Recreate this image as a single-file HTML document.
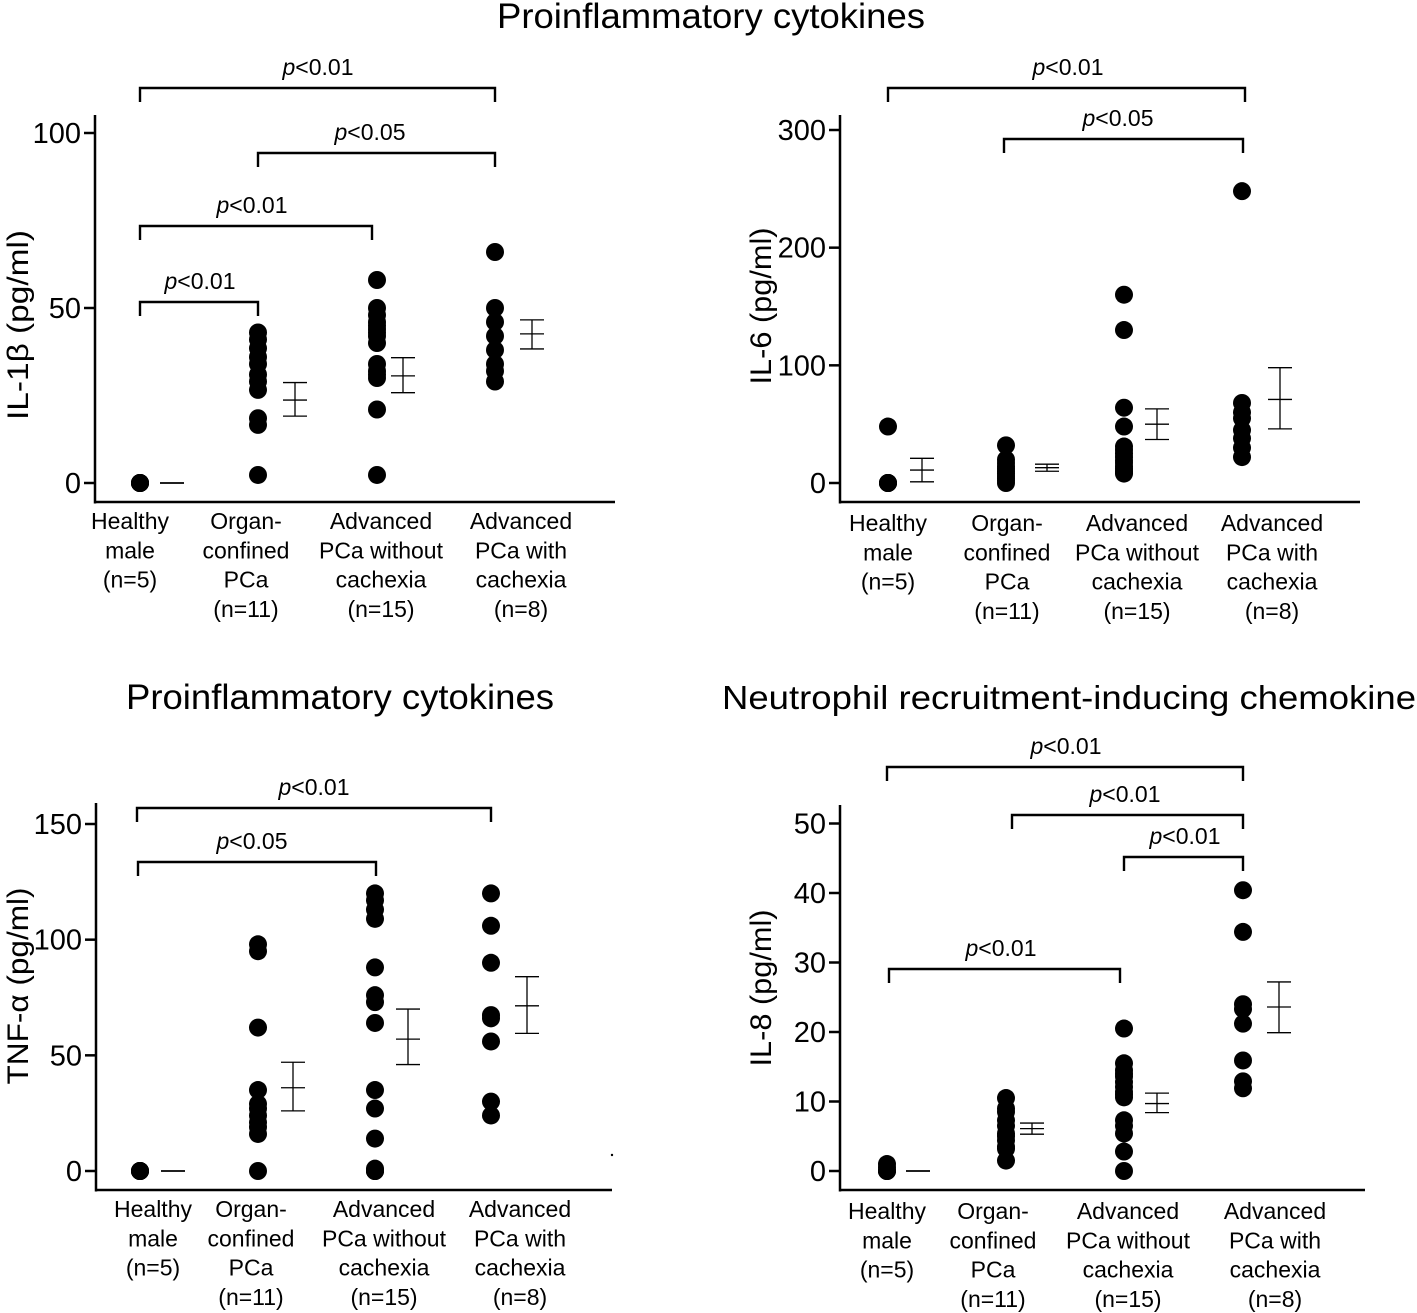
<!DOCTYPE html>
<html><head><meta charset="utf-8"><style>
html,body{margin:0;padding:0;background:#fff}
svg{display:block;font-family:"Liberation Sans",Arial,sans-serif}
</style></head><body>
<svg id="fig" width="1417" height="1313" viewBox="0 0 1417 1313">
<text x="711" y="28" font-size="35" text-anchor="middle" textLength="428" lengthAdjust="spacingAndGlyphs">Proinflammatory cytokines</text>
<text x="340" y="709" font-size="35" text-anchor="middle" textLength="428" lengthAdjust="spacingAndGlyphs">Proinflammatory cytokines</text>
<text x="1069" y="709" font-size="33" text-anchor="middle" textLength="694" lengthAdjust="spacingAndGlyphs">Neutrophil recruitment-inducing chemokine</text>
<circle cx="612" cy="1155" r="1.2" fill="#000"/>
</svg>
<script>
// ---- data ----
const groupLines = [["Healthy","male","(n=5)"],["Organ-","confined","PCa","(n=11)"],["Advanced","PCa without","cachexia","(n=15)"],["Advanced","PCa with","cachexia","(n=8)"]];
const il1bTicks = [0,50,100];
const il1bDots = [[0,0,0,0,0],[43,41,38.5,36,34,31,29,26.6,18.5,16.6,2.3],[58,50,48,46,45,44,43,42,40,34,32,31,30,21,2.3],[66,50,46,42,38,34,32,29]];
const il1bMean = [0,23.7,30.6,42.6];
const il1bHi = [0,28.7,35.8,46.6];
const il1bLo = [0,19.1,25.8,38.3];
const il6Ticks = [0,100,200,300];
const il6Dots = [[48,0,0,0,0],[32,20,17,14,12,10,8,6,4,2,0],[160,130,64,48,31,28,25,22,19,17,14,12,10,9,8],[248,68,60,55,45,38,30,22]];
const il6Mean = [11,13,50,71];
const il6Hi = [21,16,63,98];
const il6Lo = [1,10,37,46];
const tnfTicks = [0,50,100,150];
const tnfDots = [[0,0,0,0,0],[98,95,62,35,29,27,24,21,19,16,0],[120,117,113,109,88,76,73,64,35,27,14,1,0,0,0],[120,106,90,67.4,66,56,30,24]];
const tnfMean = [0,36,57,71.4];
const tnfHi = [0,47,70,84];
const tnfLo = [0,26,46,59.5];
const il8Ticks = [0,10,20,30,40,50];
const il8Dots = [[1,0.5,0,0,0],[10.5,9,8.5,7.3,6.5,5.4,5,4.4,3.5,3.2,1.5],[20.5,15.5,14.5,14,13.6,12.8,12.1,11.4,11,10.6,7.3,6.5,5.4,2.8,0],[40.4,34.4,24,23.3,21.2,15.9,12.9,11.9]];
const il8Mean = [0,6.1,9.7,23.6];
const il8Hi = [0,6.9,11.2,27.2];
const il8Lo = [0,5.3,8.4,19.9];

// ---- drawing ----
const svg = document.getElementById('fig');
const NS = 'http://www.w3.org/2000/svg';
function mk(tag, attrs, parent){
  const e = document.createElementNS(NS, tag);
  for (const k in attrs) e.setAttribute(k, attrs[k]);
  (parent||svg).appendChild(e); return e;
}
function panel(cfg){
  const g = mk('g', {});
  
  
  const y = v => cfg.y0 - (v - 0) * (cfg.y0 - cfg.yTop) / cfg.vTop;
  const ya = mk('line', {x1:cfg.ax, y1:cfg.axTop, x2:cfg.ax, y2:cfg.axY+1.5, stroke:'#000','stroke-width':2.5}, g);
  
  
  const xa = mk('line', {x1:cfg.ax-1, y1:cfg.axY, x2:cfg.axR, y2:cfg.axY, stroke:'#000','stroke-width':2.5}, g);
  
  
  cfg.ticks.forEach(t => {
    const tl = mk('line', {x1:cfg.ax-11, y1:y(t), x2:cfg.ax, y2:y(t), stroke:'#000','stroke-width':2.5}, g);
    
    
    const tx = mk('text', {x:cfg.ax-14, y:y(t)+10, 'font-size':29, 'text-anchor':'end'}, g);
    tx.textContent = t;
    
    
  });
  const yl = mk('text', {x:0, y:0, 'font-size':30, 'text-anchor':'middle', textLength:cfg.ylLen, lengthAdjust:'spacingAndGlyphs', transform:`translate(${cfg.ylx},${cfg.yly}) rotate(-90)`}, g);
  yl.textContent = cfg.ylabel;
  
  
  groupLines.forEach((lines, i) => {
    lines.forEach((ln, j) => {
      const t = mk('text', {x:cfg.lblX[i], y:cfg.lblY + j*29.3, 'font-size':23, 'text-anchor':'middle'}, g);
      t.textContent = ln;
      
      
    });
  });
  cfg.dots.forEach((arr, i) => {
    arr.forEach(v => {
      const c = mk('circle', {cx:cfg.gx[i], cy:y(v), r:9, fill:'#000'}, g);
      
      
    });
  });
  cfg.mean.forEach((m, i) => {
    const ex = cfg.ex[i];
    const eg = mk('g', {stroke:'#000','stroke-width':1.3}, g);
    
    
    if (cfg.hi[i] === cfg.lo[i]) {
      mk('line', {x1:ex-12, y1:y(m), x2:ex+12, y2:y(m), 'stroke-width':1.8}, eg);
    } else {
      mk('line', {x1:ex, y1:y(cfg.hi[i]), x2:ex, y2:y(cfg.lo[i])}, eg);
      mk('line', {x1:ex-12, y1:y(cfg.hi[i]), x2:ex+12, y2:y(cfg.hi[i])}, eg);
      mk('line', {x1:ex-12, y1:y(cfg.lo[i]), x2:ex+12, y2:y(cfg.lo[i])}, eg);
      mk('line', {x1:ex-12, y1:y(m), x2:ex+12, y2:y(m)}, eg);
    }
  });
  cfg.brackets.forEach(b => {
    const bg = mk('g', {}, g);
    
    
    mk('path', {d:`M${b[0]},${b[2]+14} V${b[2]} H${b[1]} V${b[2]+14}`, fill:'none', stroke:'#000','stroke-width':2.4}, bg);
    const t = mk('text', {x:b[3], y:b[2]-13, 'font-size':23, 'text-anchor':'middle'}, bg);
    const ti = mk('tspan', {'font-style':'italic'}, t); ti.textContent = 'p';
    const tr = mk('tspan', {}, t); tr.textContent = b[4];
  });
}
panel({name:'il1b-panel', ax:95, axTop:115, axY:502, axR:615, y0:483, yTop:133, vTop:100,
  ticks:il1bTicks, ylabel:'IL-1β (pg/ml)', ylLen:190, ylx:28, yly:325,
  gx:[140,258,377,495], ex:[172,295,403,532], lblX:[130,246,381,521], lblY:529,
  dots:il1bDots, mean:il1bMean, hi:il1bHi, lo:il1bLo,
  brackets:[[140,495,88,318,'<0.01'],[258,495,153,370,'<0.05'],[140,372,226,252,'<0.01'],[140,258,302,200,'<0.01']]});
panel({name:'il6-panel', ax:840, axTop:115, axY:502, axR:1360, y0:483, yTop:130, vTop:300,
  ticks:il6Ticks, ylabel:'IL-6 (pg/ml)', ylLen:157, ylx:771, yly:306,
  gx:[888,1006,1124,1242], ex:[922,1047,1157,1280], lblX:[888,1007,1137,1272], lblY:531,
  dots:il6Dots, mean:il6Mean, hi:il6Hi, lo:il6Lo,
  brackets:[[888,1245,88,1068,'<0.01'],[1004,1243,139,1118,'<0.05']]});
panel({name:'tnf-panel', ax:96, axTop:803, axY:1190, axR:612, y0:1171, yTop:824, vTop:150,
  ticks:tnfTicks, ylabel:'TNF-α (pg/ml)', ylLen:197, ylx:28, yly:986,
  gx:[140,258,375,491], ex:[173,293,408,527], lblX:[153,251,384,520], lblY:1217,
  dots:tnfDots, mean:tnfMean, hi:tnfHi, lo:tnfLo,
  brackets:[[137,491,808,314,'<0.01'],[138,376,862,252,'<0.05']]});
panel({name:'il8-panel', ax:840, axTop:805, axY:1190, axR:1365, y0:1171, yTop:823.5, vTop:50,
  ticks:il8Ticks, ylabel:'IL-8 (pg/ml)', ylLen:157, ylx:771, yly:988,
  gx:[887,1006,1124,1243], ex:[918,1032,1157,1279], lblX:[887,993,1128,1275], lblY:1219,
  dots:il8Dots, mean:il8Mean, hi:il8Hi, lo:il8Lo,
  brackets:[[887,1243,767,1066,'<0.01'],[1012,1243,815,1125,'<0.01'],[1124,1243,857,1185,'<0.01'],[889,1120,969,1001,'<0.01']]});
</script>
</body></html>
